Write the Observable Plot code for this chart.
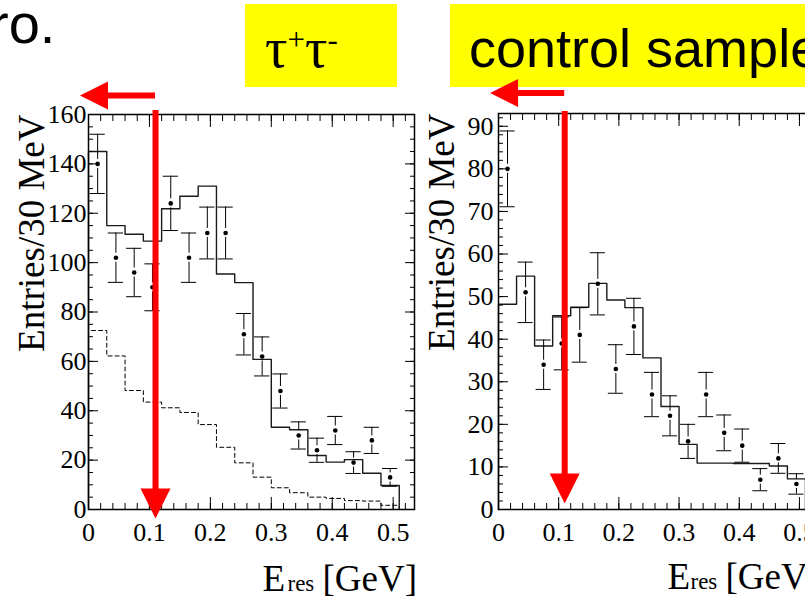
<!DOCTYPE html>
<html>
<head>
<meta charset="utf-8">
<script src="https://cdn.jsdelivr.net/npm/d3@7"></script>
<script src="https://cdn.jsdelivr.net/npm/@observablehq/plot@0.6"></script>
<style>
html, body { margin: 0; padding: 0; background: #fff; overflow: hidden; width: 805px; height: 596px; }
#root { position: relative; width: 805px; height: 596px; overflow: hidden; }
.abs { position: absolute; white-space: nowrap; line-height: 1; color: #000; }
#root svg { position: absolute; background: transparent !important; overflow: visible; }
#root svg text { font-family: 'Liberation Serif', 'Times New Roman', serif; }
</style>
</head>
<body>
<div id="root">
  <div class="abs" style="left:-10px;top:-4px;font-family:'Liberation Sans';font-size:56px;">ro.</div>
  <div class="abs" style="left:245px;top:4px;width:152px;height:83px;background:#ffff00;"></div>
  <div class="abs" style="left:450px;top:4px;width:360px;height:83px;background:#ffff00;"></div>
  <div class="abs" id="tauLabel" style="left:265px;top:20px;font-family:'Liberation Serif';font-size:56px;"></div>
  <div class="abs" id="ctrlLabel" style="left:469px;top:21px;font-family:'Liberation Sans';font-size:54px;"></div>
</div>
<script>
// ---------- data ----------
const panelTitles = ["τ", "+", "τ", "-"];
const controlTitle = "control sample";
const pageText = "ro.";

// bin centres of E_res [GeV], 30 MeV bins
const eres = [0.015, 0.045, 0.075, 0.105, 0.135, 0.165, 0.195, 0.225, 0.255,
              0.285, 0.315, 0.345, 0.375, 0.405, 0.435, 0.465, 0.495];
const binWidth = 0.03;

// tau+tau- panel
const tauData = [140, 102, 96, 90, 124, 102, 112, 112, 71, 62, 48, 30, 24, 32, 19, 28, 13];
const tauErr  = [12, 10, 9.8, 9.5, 11, 10, 10.5, 10.5, 8.4, 7.9, 6.9, 5.5, 4.9, 5.7, 4.4, 5.3, 3.6];
const tauMC   = [145, 115, 111.5, 108.7, 121.8, 126.9, 131, 95.4, 91.9, 60.8, 33.3, 32.3, 21.9, 19.2, 20.2, 14.7, 9.7];
const tauBkg  = [72.5, 62.2, 48.2, 43.5, 41.2, 39.3, 34.4, 25.2, 18.9, 13.1, 8.8, 6.8, 5.0, 4.5, 3.6, 3.4, 1.7];

// control sample panel
const ctrlData = [80, 51, 34, 39, 41, 53, 33, 43, 27, 22, 16, 27, 18, 15, 7, 12, 6];
const ctrlErr  = [8.9, 7.1, 5.8, 6.2, 6.4, 7.3, 5.7, 6.6, 5.2, 4.7, 4.0, 5.2, 4.2, 3.9, 2.6, 3.5, 2.4];
const ctrlMC   = [48.2, 54.8, 38.4, 45.5, 47.5, 53.1, 49.2, 47.4, 35.6, 24.2, 15.3, 10.9, 10.9, 10.8, 10.8, 10.2, 7.2];

// axes
const xTicks = [0, 0.1, 0.2, 0.3, 0.4, 0.5];
const xTickLabels = ["0", "0.1", "0.2", "0.3", "0.4", "0.5"];
const tauYTicks = [0, 20, 40, 60, 80, 100, 120, 140, 160];
const ctrlYTicks = [0, 10, 20, 30, 40, 50, 60, 70, 80, 90];
const yTitle = "Entries/30 MeV";
const xTitleParts = ["E", "res", "[GeV]"];

// annotation: cut value and arrows
const cutValue = 0.11;
const arrowTip = -0.014;

// ---------- header text ----------
document.getElementById("tauLabel").innerHTML =
  `${panelTitles[0]}<span style="font-size:31px;position:relative;top:-17px">${panelTitles[1]}</span>${panelTitles[2]}<span style="font-size:31px;position:relative;top:-17px">${panelTitles[3]}</span>`;
document.getElementById("ctrlLabel").textContent = controlTitle;

// ---------- helpers ----------
function steps(vals) {
  const pts = [{x: eres[0] - binWidth / 2, y: 0}];
  vals.forEach((v, i) => pts.push({x: eres[i] - binWidth / 2, y: v}));
  const last = eres[vals.length - 1] + binWidth / 2;
  pts.push({x: last, y: vals[vals.length - 1]});
  pts.push({x: last, y: 0});
  return pts;
}

const headSymbol = {
  draw(ctx, size) {
    const r = Math.sqrt(size / Math.PI);
    ctx.moveTo(0, 0);
    ctx.lineTo(-r, -2 * r);
    ctx.lineTo(r, -2 * r);
    ctx.closePath();
  }
};

const xMinor = d3.range(0, 0.535, 0.02);
const serif = "Liberation Serif";

function makePanel(cfg) {
  const pts = eres.map((x, i) => ({x, y: cfg.data[i], e: cfg.err[i]}));
  const cap = 0.0125;
  const marks = [];
  if (cfg.bkg) {
    marks.push(Plot.line(steps(cfg.bkg), {x: "x", y: "y", curve: "step-after", stroke: "#000", strokeWidth: 1, strokeDasharray: "4,3"}));
  }
  marks.push(Plot.line(steps(cfg.mc), {x: "x", y: "y", curve: "step-after", stroke: "#1a1a1a", strokeWidth: 1.4}));
  // error bars with small gap round the dot
  marks.push(Plot.ruleX(pts, {x: "x", y1: d => d.y + d.e, y2: d => d.y, insetBottom: 4.5, stroke: "#000", strokeWidth: 1}));
  marks.push(Plot.ruleX(pts, {x: "x", y1: d => d.y, y2: d => d.y - d.e, insetTop: 4.5, stroke: "#000", strokeWidth: 1}));
  marks.push(Plot.ruleY(pts, {y: d => d.y + d.e, x1: d => d.x - cap, x2: d => d.x + cap, stroke: "#000", strokeWidth: 1}));
  marks.push(Plot.ruleY(pts, {y: d => d.y - d.e, x1: d => d.x - cap, x2: d => d.x + cap, stroke: "#000", strokeWidth: 1}));
  marks.push(Plot.dot(pts, {x: "x", y: "y", r: 2.3, fill: "#000", stroke: "none"}));
  // ticks on all four sides, pointing inwards
  for (const anchor of ["bottom", "top"]) {
    marks.push(Plot.axisX(xTicks, {anchor, tickSize: -12, fill: "none", label: null}));
    marks.push(Plot.axisX(xMinor, {anchor, tickSize: -6, fill: "none", label: null}));
  }
  for (const anchor of ["left", "right"]) {
    marks.push(Plot.axisY(cfg.yTicks, {anchor, tickSize: -10, fill: "none", label: null}));
    marks.push(Plot.axisY(cfg.yMinor, {anchor, tickSize: -5, fill: "none", label: null}));
  }
  // tick labels
  marks.push(Plot.axisX(xTicks, {anchor: "bottom", tickSize: 0, tickPadding: 13, tickFormat: (d, i) => xTickLabels[i], fontSize: 26, fontFamily: serif, fontVariant: "normal", label: null, fill: "#000"}));
  marks.push(Plot.axisY(cfg.yTicks, {anchor: "left", tickSize: 0, tickPadding: cfg.yPad, tickFormat: d => String(d), fontSize: 26, fontFamily: serif, fontVariant: "normal", label: null, fill: "#000"}));
  marks.push(Plot.frame({stroke: "#000", strokeWidth: 1.5}));
  // titles
  marks.push(Plot.text([yTitle], {text: d => d, frameAnchor: "top-left", rotate: -90, textAnchor: "end", lineAnchor: "bottom", dx: -45, dy: cfg.yTitleDy, fontSize: 37, fontFamily: serif, fill: "#000"}));
  marks.push(Plot.text([xTitleParts[0]], {text: d => d, frameAnchor: "bottom-left", textAnchor: "start", lineAnchor: "bottom", dx: cfg.xt[0], dy: cfg.xtDy, fontSize: 37, fontFamily: serif, fill: "#000"}));
  marks.push(Plot.text([xTitleParts[1]], {text: d => d, frameAnchor: "bottom-left", textAnchor: "start", lineAnchor: "bottom", dx: cfg.xt[1], dy: cfg.xtDy, fontSize: 23, fontFamily: serif, fill: "#000"}));
  marks.push(Plot.text([xTitleParts[2]], {text: d => d, frameAnchor: "bottom-left", textAnchor: "start", lineAnchor: "bottom", dx: cfg.xt[2], dy: cfg.xtDy, fontSize: 37, fontFamily: serif, fill: "#000"}));
  // red cut arrows
  marks.push(Plot.ruleX([cutValue], {x: d => d, stroke: "#ff0000", strokeWidth: 6, insetTop: cfg.shaftTop, insetBottom: cfg.shaftBottom}));
  marks.push(Plot.dot([cutValue], {x: d => d, frameAnchor: "bottom", dy: cfg.headDy, r: 15, symbol: headSymbol, fill: "#ff0000", stroke: "none"}));
  marks.push(Plot.ruleY([cfg.arrowY], {y: d => d, x1: arrowTip, x2: cutValue, insetLeft: 20, stroke: "#ff0000", strokeWidth: 6}));
  marks.push(Plot.dot([{x: arrowTip, y: cfg.arrowY}], {x: "x", y: "y", r: 14, rotate: 90, symbol: headSymbol, fill: "#ff0000", stroke: "none"}));

  const svg = Plot.plot({
    width: 430,
    height: 526,
    marginLeft: 88,
    marginRight: cfg.marginRight,
    marginTop: cfg.marginTop,
    marginBottom: 87,
    x: {domain: [0, 0.535], label: null},
    y: {domain: cfg.yDomain, label: null},
    style: {fontFamily: serif, fontSize: "26px", background: "transparent", overflow: "visible", color: "#000"},
    marks
  });
  svg.style.left = cfg.left + "px";
  svg.style.top = "70px";
  document.getElementById("root").appendChild(svg);
}

makePanel({
  data: tauData, err: tauErr, mc: tauMC, bkg: tauBkg,
  yDomain: [0, 160], yTicks: tauYTicks, yMinor: d3.range(0, 161, 5),
  yPad: 2, marginRight: 16, marginTop: 44, left: 0,
  yTitleDy: 0, xt: [174, 199, 234], xtDy: 81,
  shaftTop: -4, shaftBottom: 10, headDy: 9, arrowY: 167.7
});
makePanel({
  data: ctrlData, err: ctrlErr, mc: ctrlMC, bkg: null,
  yDomain: [0, 93], yTicks: ctrlYTicks, yMinor: d3.range(0, 93, 2),
  yPad: 5, marginRight: 20, marginTop: 43, left: 410,
  yTitleDy: 0, xt: [169, 192, 227], xtDy: 79,
  shaftTop: -2, shaftBottom: 30, headDy: -6, arrowY: 97.8
});
</script>
</body>
</html>
